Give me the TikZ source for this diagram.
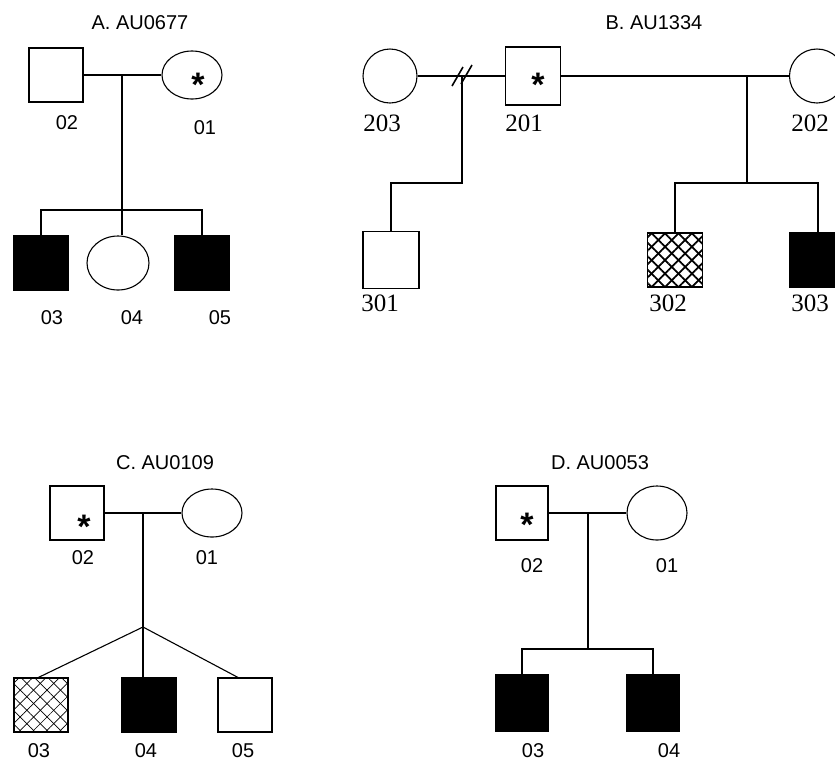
\documentclass[tikz,border=0pt]{standalone}
\usepackage{fontspec}
\setmainfont{Liberation Sans}
\newfontfamily\oldidfont{Liberation Serif}
\usetikzlibrary{shapes.geometric}
\usetikzlibrary{patterns.meta}

\tikzset{
  male/.style={draw, rectangle, minimum width=54pt, minimum height=54pt, inner sep=0pt},
  female/.style={draw, ellipse, minimum width=60pt, minimum height=48pt, inner sep=0pt},
  affected/.style={fill=black},
  hatched/.style={preaction={pattern={Lines[angle=45,distance=9.5pt,line width=#1]}},
                  pattern={Lines[angle=-45,distance=9.5pt,line width=#1]}},
  hatched/.default=1.4pt,
  title/.style={font=\fontsize{20}{22}\selectfont},
  idlabel/.style={font=\fontsize{20}{22}\selectfont},
  oldid/.style={font=\oldidfont\fontsize{25}{27}\selectfont},
  proband/.style={font=\fontsize{34}{34}\bfseries\selectfont, inner sep=0pt},
}

\begin{document}
\begin{tikzpicture}[x=1pt, y=-1pt, line width=1.1pt]
\useasboundingbox (0,0) rectangle (835,764);

% panel A
\node [title] (a-title) at (140,23) {A. AU0677};
\node [male] (a02) at (56,75) {};
\node [female] (a01) at (192,75) {};
\node [proband] (a-star) at (198,85) {*};
\node [male, affected] (a03) at (41,263) {};
\node [female, minimum width=62pt, minimum height=54pt] (a04) at (118,263) {};
\node [male, affected] (a05) at (202,263) {};
\coordinate (a-mate) at (122,75);
\coordinate (a-sib) at (122,210);
\draw (a02.east) -- (a01.west);
\draw (a-mate) -- (a-sib);
\draw (a03.north) |- (a-sib) -| (a05.north);
\draw (a-sib) -- (a-sib |- a04.north);
\node [idlabel] (a02-id) at (67,123) {02};
\node [idlabel] (a01-id) at (205,128) {01};
\node [idlabel] (a03-id) at (52,318) {03};
\node [idlabel] (a04-id) at (132,318) {04};
\node [idlabel] (a05-id) at (220,318) {05};

% panel B
\node [title] (b-title) at (654,23) {B. AU1334};
\node [female, minimum width=54pt, minimum height=54pt] (b203) at (390,76) {};
\node [male, minimum width=55pt, minimum height=58pt, line width=1.6pt] (b201) at (533,76) {};
\node [proband] (b-star) at (538,85) {*};
\node [female, minimum width=55pt, minimum height=54pt] (b202) at (817,76) {};
\node [male, minimum width=56pt, minimum height=57pt, line width=1.5pt] (b301) at (391,260) {};
\node [male, minimum width=55pt, line width=1.5pt, hatched=1.8pt] (b302) at (675,260) {};
\node [male, minimum width=56pt, affected] (b303) at (818,260) {};
\coordinate (b-split) at (462,76);
\coordinate (b-left) at (462,183);
\coordinate (b-mate) at (747,76);
\coordinate (b-sib) at (747,183);
\draw (b203.east) -- (b201.west);
\draw (b201.east) -- (b202.west);
\draw [line width=1.6pt] (b-split) ++(-10,10) -- ++(11,-19);
\draw [line width=1.6pt] (b-split) ++(-1,8) -- ++(11,-19);
\draw (b-split) -- (b-left) -| (b301.north);
\draw (b-mate) -- (b-sib);
\draw (b302.north) |- (b-sib) -| (b303.north);
\node [oldid] (b203-id) at (382,123) {203};
\node [oldid] (b201-id) at (524,123) {201};
\node [oldid] (b202-id) at (810,123) {202};
\node [oldid] (b301-id) at (380,303) {301};
\node [oldid] (b302-id) at (668,303) {302};
\node [oldid] (b303-id) at (810,303) {303};

% panel C
\node [title] (c-title) at (165,463) {C. AU0109};
\node [male] (c02) at (77,513) {};
\node [proband] (c-star) at (84,527) {*};
\node [female] (c01) at (212,513) {};
\node [male, hatched=0.7pt] (c03) at (41,705) {};
\node [male, affected] (c04) at (149,705) {};
\node [male] (c05) at (245,705) {};
\coordinate (c-mate) at (143,513);
\coordinate (c-sib) at (143,627);
\draw (c02.east) -- (c01.west);
\draw (c-mate) -- (c-sib);
\draw (c-sib) -- ([xshift=-3pt]c03.north);
\draw (c-sib) -- (c-sib |- c04.north);
\draw (c-sib) -- ([xshift=-7pt]c05.north);
\node [idlabel] (c02-id) at (83,558) {02};
\node [idlabel] (c01-id) at (207,558) {01};
\node [idlabel] (c03-id) at (39,751) {03};
\node [idlabel] (c04-id) at (146,751) {04};
\node [idlabel] (c05-id) at (243,751) {05};

% panel D
\node [title] (d-title) at (600,463) {D. AU0053};
\node [male, minimum width=52pt] (d02) at (522,513) {};
\node [proband] (d-star) at (527,525) {*};
\node [female, minimum height=54pt] (d01) at (657,513) {};
\node [male, minimum width=52pt, minimum height=56pt, affected] (d03) at (522,703) {};
\node [male, minimum width=53pt, minimum height=56pt, affected] (d04) at (653,703) {};
\coordinate (d-mate) at (588,513);
\coordinate (d-sib) at (588,649);
\draw (d02.east) -- (d01.west);
\draw (d-mate) -- (d-sib);
\draw (d03.north) |- (d-sib) -| (d04.north);
\node [idlabel] (d02-id) at (532,566) {02};
\node [idlabel] (d01-id) at (667,566) {01};
\node [idlabel] (d03-id) at (533,751) {03};
\node [idlabel] (d04-id) at (669,751) {04};

\end{tikzpicture}
\end{document}
